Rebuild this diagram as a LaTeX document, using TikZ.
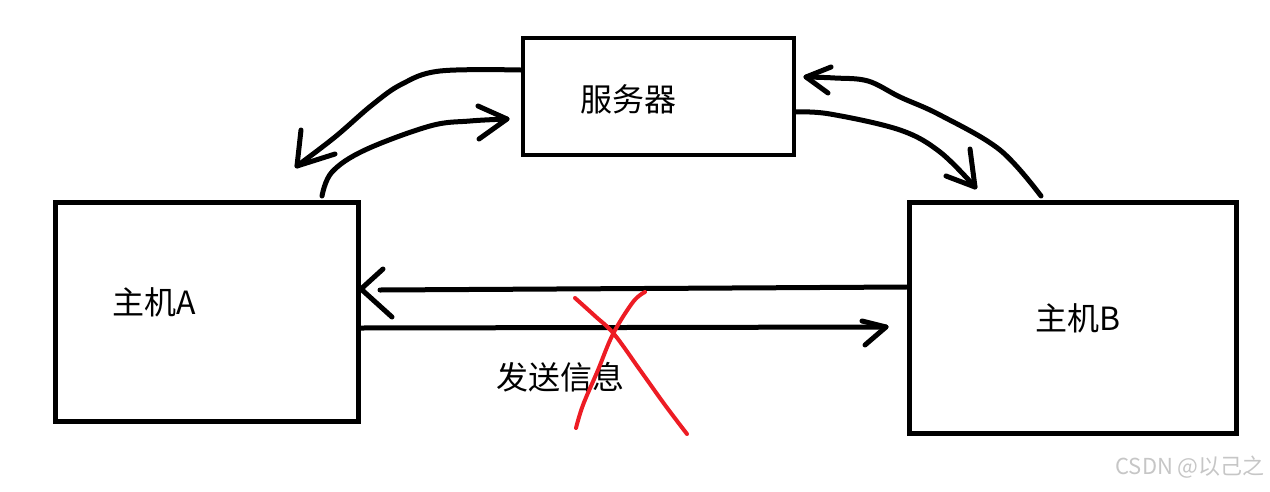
\documentclass[tikz,border=0pt]{standalone}
\usepackage{fontspec}
\setmainfont{Noto Sans CJK SC}
\definecolor{penred}{HTML}{ED1C24}
\begin{document}
\begin{tikzpicture}[x=1pt,y=-1pt,
  box/.style={draw, line width=5pt, inner sep=0pt},
  pen/.style={line width=5pt, line cap=round, line join=round},
  redpen/.style={pen, line width=4pt, draw=penred},
  lbl/.style={font=\fontsize{32}{32}\selectfont, inner sep=0pt},
  wmark/.style={font=\fontsize{22}{22}\selectfont, text=gray!45, inner sep=0pt}]
\useasboundingbox (0,0) rectangle (1270,491);
% boxes
\node[box, minimum width=303pt, minimum height=219pt] (A) at (206.5,312) {};
\node[box, line width=4pt, minimum width=271pt, minimum height=117pt] (S) at (658,96) {};
\node[box, minimum width=327pt, minimum height=231pt] (B) at (1072.5,317.5) {};
% labels
\node[lbl, anchor=west] (tA) at (112,302) {主机A};
\node[lbl] (tS) at (628,99) {服务器};
\node[lbl] (tB) at (1078,318) {主机B};
\node[lbl] (tM) at (560,377) {发送信息};
\node[wmark, anchor=east] (wm) at (1265,467) {CSDN @以己之};
% coordinates
\coordinate (s1) at (S.west |- 0,70);
\coordinate (t1) at (297,166);
\coordinate (a2) at (322,196);
\coordinate (t2) at (507,119);
\coordinate (s3) at (S.east |- 0,112);
\coordinate (t3) at (975,187);
\coordinate (b4) at (1041,196);
\coordinate (t4) at (806,77);
\coordinate (b5) at (B.west |- 0,287);
\coordinate (t5) at (361,289);
\coordinate (a6) at (A.east |- 0,328);
\coordinate (t6) at (886,327);
% server -> host A
\draw[pen] plot[smooth, tension=0.6] coordinates {(s1) (440,71) (402,84) (372,105) (335,137) (t1)};
\draw[pen] (301,130) -- (t1) -- (335,154);
% host A -> server
\draw[pen] plot[smooth, tension=0.6] coordinates {(a2) (332,172) (365,150) (430,126) (470,121) (t2)};
\draw[pen] (478,106) -- (t2) -- (479,139);
% server -> host B
\draw[pen] plot[smooth, tension=0.6] coordinates {(s3) (830,114) (900,130) (940,152) (t3)};
\draw[pen] (970,149) -- (t3) -- (946,176);
% host B -> server
\draw[pen] plot[smooth, tension=0.6] coordinates {(b4) (1000,150) (940,115) (900,97) (868,81) (835,78) (t4)};
\draw[pen] (831,67) -- (t4) -- (828,93);
% direct arrows
\draw[pen] (b5) -- (380,290);
\draw[pen] (383,269) -- (t5) -- (392,317);
\draw[pen] (a6) -- (t6);
\draw[pen] (862,321) -- (t6) -- (865,345);
% red cross
\draw[redpen] plot[smooth, tension=0.6] coordinates {(575,298) (595,316) (614,334) (640,370) (665,405) (687,434)};
\draw[redpen] plot[smooth, tension=0.6] coordinates {(645,292) (633,302) (613,334) (598,370) (583,405) (576,428)};
\end{tikzpicture}
\end{document}
